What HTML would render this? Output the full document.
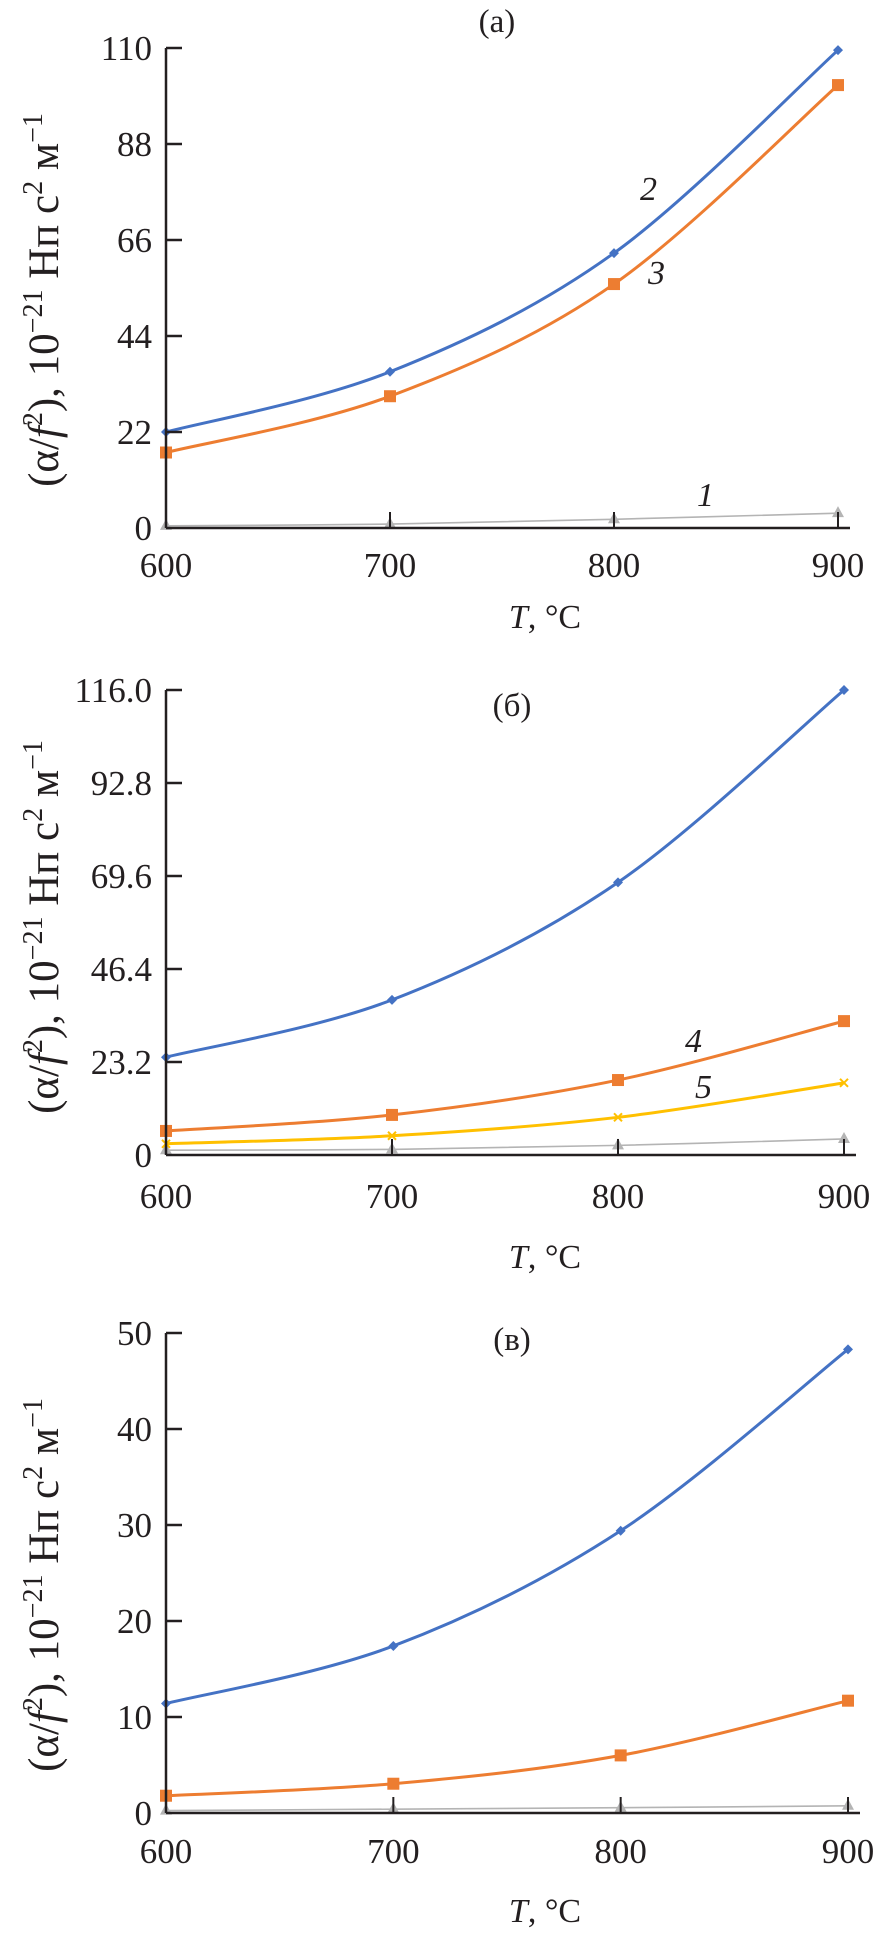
<!DOCTYPE html>
<html><head><meta charset="utf-8">
<style>
html,body{margin:0;padding:0;background:#fff;}
svg{display:block;font-family:"Liberation Serif","DejaVu Serif",serif;}
</style></head>
<body>
<svg id="chart" width="876" height="1938" viewBox="0 0 876 1938" xmlns="http://www.w3.org/2000/svg"></svg>
<script>
const temps = [600, 700, 800, 900];
// panel (a)
const aTicks = [0, 22, 44, 66, 88, 110];
const aS1 = [0.5, 0.9, 2.0, 3.4];
const aS2 = [22.0, 35.8, 63.0, 109.5];
const aS3 = [17.3, 30.2, 55.9, 101.5];
// panel (б)
const bTicks = [0, 23.2, 46.4, 69.6, 92.8, 116.0];
const bS1 = [1.2, 1.4, 2.4, 4.0];
const bS2 = [24.4, 38.7, 68.0, 116.0];
const bS4 = [6.0, 10.0, 18.7, 33.4];
const bS5 = [2.8, 4.8, 9.4, 18.0];
// panel (в)
const cTicks = [0, 10, 20, 30, 40, 50];
const cS1 = [0.25, 0.4, 0.55, 0.75];
const cS2 = [11.4, 17.4, 29.4, 48.3];
const cS3 = [1.8, 3.05, 6.0, 11.7];

const NS = "http://www.w3.org/2000/svg";
const svg = document.getElementById("chart");
function mk(tag, attrs, parent, text) {
  const e = document.createElementNS(NS, tag);
  for (const k in attrs) e.setAttribute(k, attrs[k]);
  if (text !== undefined) e.textContent = text;
  (parent || svg).appendChild(e);
  return e;
}
const BLUE = "#4472c4", ORANGE = "#ed7d31", GRAY = "#b4b4b4", YELLOW = "#ffc000", INK = "#231f20";

function smoothPath(pts) {
  let d = "M" + pts[0][0] + "," + pts[0][1];
  for (let i = 0; i < pts.length - 1; i++) {
    const p0 = pts[Math.max(0, i - 1)], p1 = pts[i], p2 = pts[i + 1], p3 = pts[Math.min(pts.length - 1, i + 2)];
    const t = 1 / 3;
    const c1 = [p1[0] + (p2[0] - p0[0]) * t / 2, p1[1] + (p2[1] - p0[1]) * t / 2];
    const c2 = [p2[0] - (p3[0] - p1[0]) * t / 2, p2[1] - (p3[1] - p1[1]) * t / 2];
    d += " C" + c1[0] + "," + c1[1] + " " + c2[0] + "," + c2[1] + " " + p2[0] + "," + p2[1];
  }
  return d;
}

function marker(g, type, x, y, color) {
  let m;
  if (type === "diamond") m = mk("path", {d: `M${x},${y-5} L${x+5},${y} L${x},${y+5} L${x-5},${y} Z`, fill: color}, g);
  else if (type === "square") m = mk("rect", {x: x-6, y: y-6, width: 12, height: 12, fill: color}, g);
  else if (type === "triangle") m = mk("path", {d: `M${x},${y-7} L${x+6},${y+4} L${x-6},${y+4} Z`, fill: color}, g);
  else m = mk("path", {d: `M${x-4},${y-4} L${x+4},${y+4} M${x+4},${y-4} L${x-4},${y+4}`, stroke: color, "stroke-width": 2}, g);
  
  
}

function panel(cfg) {
  const g = mk("g", {});
  
  
  const xs = t => cfg.x0 + (t - 600) / 300 * (cfg.x1 - cfg.x0);
  const ys = v => cfg.y0 - v / cfg.ymax * (cfg.y0 - cfg.yTop);
  cfg.series.forEach(s => {
    const pts = s.data.map((v, i) => [xs(temps[i]), ys(v)]);
    const p = mk("path", {d: smoothPath(pts), fill: "none", stroke: s.color, "stroke-width": s.w}, g);
    
    
    pts.forEach(q => marker(g, s.marker, q[0], q[1], s.color));
  });
  const ya = mk("line", {x1: cfg.x0, y1: cfg.yTop, x2: cfg.x0, y2: cfg.y0, stroke: INK, "stroke-width": 2.5}, g);
  
  
  const xa = mk("line", {x1: cfg.x0, y1: cfg.y0, x2: cfg.x1 + 12, y2: cfg.y0, stroke: INK, "stroke-width": 2.5}, g);
  
  
  cfg.ticks.forEach((v, i) => {
    const y = ys(v);
    if (i > 0) mk("line", {x1: cfg.x0, y1: y, x2: cfg.x0 + 16, y2: y, stroke: INK, "stroke-width": 2.5}, g);
    const t = mk("text", {x: cfg.x0 - 14, y: y + 12, "text-anchor": "end", "font-size": 35, fill: INK}, g, v === 0 ? "0" : cfg.fmt(v));
    
    
  });
  temps.forEach((tv, i) => {
    const x = xs(tv);
    if (i > 0) mk("line", {x1: x, y1: cfg.y0, x2: x, y2: cfg.y0 - 16, stroke: INK, "stroke-width": 2}, g);
    const t = mk("text", {x: x, y: cfg.tickY, "text-anchor": "middle", "font-size": 35, fill: INK}, g, String(tv));
    
    
  });
  const xt = mk("text", {x: 545, y: cfg.xTitleY, "text-anchor": "middle", "font-size": 34, fill: INK}, g);
  
  
  mk("tspan", {"font-style": "italic"}, xt, "T");
  mk("tspan", {}, xt, ", °C");
  const pt = mk("text", {x: cfg.titleX, y: cfg.titleY, "text-anchor": "middle", "font-size": 33, fill: INK}, g, cfg.title);
  
  
  const yt = mk("text", {transform: `translate(58,${cfg.yTitleC}) rotate(-90)`, "text-anchor": "middle", "font-size": 43, fill: INK}, g);
  
  
  mk("tspan", {}, yt, "(α/");
  mk("tspan", {"font-style": "italic"}, yt, "f");
  mk("tspan", {"font-size": 28, dy: -16}, yt, "2");
  mk("tspan", {dy: 16}, yt, "), 10");
  mk("tspan", {"font-size": 28, dy: -16}, yt, "−21");
  mk("tspan", {dy: 16}, yt, " Нп с");
  mk("tspan", {"font-size": 28, dy: -16}, yt, "2");
  mk("tspan", {dy: 16}, yt, " м");
  mk("tspan", {"font-size": 28, dy: -16}, yt, "−1");
  (cfg.labels || []).forEach(l => {
    const t = mk("text", {x: l[0], y: l[1], "font-size": 34, "font-style": "italic", fill: INK}, g, l[2]);
    
    
  });
}

panel({name: "panel-a", x0: 166, x1: 838, y0: 528, yTop: 48, ymax: 110, ticks: aTicks, fmt: v => String(v),
  tickY: 577, xTitleY: 628, title: "(a)", titleX: 497, titleY: 32, yTitleC: 300,
  series: [
    {name: "series-1-line", data: aS1, color: GRAY, w: 1.6, marker: "triangle"},
    {name: "series-3-line", data: aS3, color: ORANGE, w: 3, marker: "square"},
    {name: "series-2-line", data: aS2, color: BLUE, w: 3, marker: "diamond"}],
  labels: [[640, 200, "2"], [648, 284, "3"], [697, 506, "1"]]});

panel({name: "panel-b", x0: 166, x1: 844, y0: 1155, yTop: 690, ymax: 116, ticks: bTicks, fmt: v => v.toFixed(1),
  tickY: 1208, xTitleY: 1268, title: "(б)", titleX: 512, titleY: 716, yTitleC: 927,
  series: [
    {name: "series-1-line", data: bS1, color: GRAY, w: 1.6, marker: "triangle"},
    {name: "series-5-line", data: bS5, color: YELLOW, w: 3, marker: "x"},
    {name: "series-4-line", data: bS4, color: ORANGE, w: 3, marker: "square"},
    {name: "series-2-line", data: bS2, color: BLUE, w: 3, marker: "diamond"}],
  labels: [[685, 1052, "4"], [695, 1098, "5"]]});

panel({name: "panel-c", x0: 166, x1: 848, y0: 1813, yTop: 1333, ymax: 50, ticks: cTicks, fmt: v => String(v),
  tickY: 1863, xTitleY: 1922, title: "(в)", titleX: 512, titleY: 1350, yTitleC: 1585,
  series: [
    {name: "series-1-line", data: cS1, color: GRAY, w: 1.6, marker: "triangle"},
    {name: "series-3-line", data: cS3, color: ORANGE, w: 3, marker: "square"},
    {name: "series-2-line", data: cS2, color: BLUE, w: 3, marker: "diamond"}]});
</script>
</body></html>
